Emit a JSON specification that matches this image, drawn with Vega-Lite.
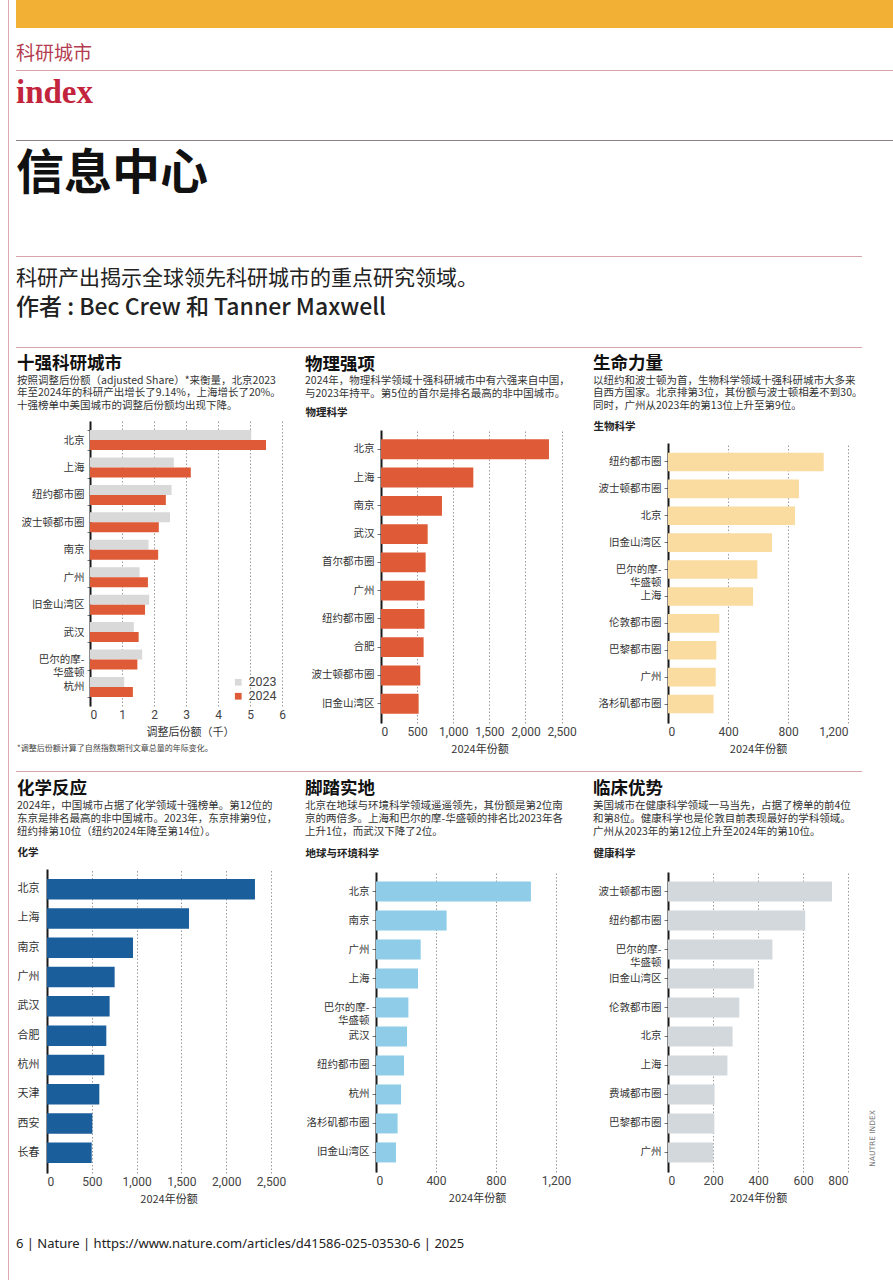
{
  "$schema": "https://vega.github.io/schema/vega-lite/v6.json",
  "padding": {"left": 8, "top": 0, "right": 0, "bottom": 0},
  "background": "#ffffff",
  "datasets": {
    "blank": [{}],
    "top10": [
      {"city": "北京", "year": "2023", "share": 5.04}, {"city": "北京", "year": "2024", "share": 5.50},
      {"city": "上海", "year": "2023", "share": 2.62}, {"city": "上海", "year": "2024", "share": 3.15},
      {"city": "纽约都市圈", "year": "2023", "share": 2.55}, {"city": "纽约都市圈", "year": "2024", "share": 2.37},
      {"city": "波士顿都市圈", "year": "2023", "share": 2.50}, {"city": "波士顿都市圈", "year": "2024", "share": 2.15},
      {"city": "南京", "year": "2023", "share": 1.83}, {"city": "南京", "year": "2024", "share": 2.13},
      {"city": "广州", "year": "2023", "share": 1.55}, {"city": "广州", "year": "2024", "share": 1.81},
      {"city": "旧金山湾区", "year": "2023", "share": 1.85}, {"city": "旧金山湾区", "year": "2024", "share": 1.72},
      {"city": "武汉", "year": "2023", "share": 1.37}, {"city": "武汉", "year": "2024", "share": 1.52},
      {"city": "巴尔的摩-华盛顿", "year": "2023", "share": 1.63}, {"city": "巴尔的摩-华盛顿", "year": "2024", "share": 1.48},
      {"city": "杭州", "year": "2023", "share": 1.07}, {"city": "杭州", "year": "2024", "share": 1.34}
    ],
    "physics": [
      {"city": "北京", "share": 2325}, {"city": "上海", "share": 1278}, {"city": "南京", "share": 844},
      {"city": "武汉", "share": 646}, {"city": "首尔都市圈", "share": 618}, {"city": "广州", "share": 604},
      {"city": "纽约都市圈", "share": 602}, {"city": "合肥", "share": 590}, {"city": "波士顿都市圈", "share": 544},
      {"city": "旧金山湾区", "share": 521}
    ],
    "biology": [
      {"city": "纽约都市圈", "share": 1038}, {"city": "波士顿都市圈", "share": 873}, {"city": "北京", "share": 847},
      {"city": "旧金山湾区", "share": 693}, {"city": "巴尔的摩-华盛顿", "share": 596}, {"city": "上海", "share": 567},
      {"city": "伦敦都市圈", "share": 342}, {"city": "巴黎都市圈", "share": 322}, {"city": "广州", "share": 318},
      {"city": "洛杉矶都市圈", "share": 304}
    ],
    "chemistry": [
      {"city": "北京", "share": 2321}, {"city": "上海", "share": 1585}, {"city": "南京", "share": 960},
      {"city": "广州", "share": 755}, {"city": "武汉", "share": 699}, {"city": "合肥", "share": 662},
      {"city": "杭州", "share": 640}, {"city": "天津", "share": 584}, {"city": "西安", "share": 506},
      {"city": "长春", "share": 499}
    ],
    "earth": [
      {"city": "北京", "share": 1033}, {"city": "南京", "share": 471}, {"city": "广州", "share": 298},
      {"city": "上海", "share": 280}, {"city": "巴尔的摩-华盛顿", "share": 216}, {"city": "武汉", "share": 207},
      {"city": "纽约都市圈", "share": 187}, {"city": "杭州", "share": 167}, {"city": "洛杉矶都市圈", "share": 144},
      {"city": "旧金山湾区", "share": 133}
    ],
    "health": [
      {"city": "波士顿都市圈", "share": 729}, {"city": "纽约都市圈", "share": 610}, {"city": "巴尔的摩-华盛顿", "share": 464},
      {"city": "旧金山湾区", "share": 382}, {"city": "伦敦都市圈", "share": 317}, {"city": "北京", "share": 287},
      {"city": "上海", "share": 264}, {"city": "费城都市圈", "share": 207}, {"city": "巴黎都市圈", "share": 206},
      {"city": "广州", "share": 201}
    ]
  },
  "spacing": 7,
  "align": "none",
  "resolve": {"scale": {"color": "independent"}, "legend": {"color": "independent"}},
  "hconcat": [
    {"width": 1, "height": 1280, "data": {"name": "blank"}, "view": {"fill": "#DDA9B3"},
     "mark": {"type": "point", "size": 0, "opacity": 0, "filled": true, "strokeWidth": 0}, "encoding": {}},
    {
      "spacing": 0,
      "align": "none",
      "resolve": {"scale": {"color": "independent"}, "legend": {"color": "independent"}},
      "vconcat": [
        {"width": 877, "height": 28, "data": {"name": "blank"}, "view": {"fill": "#F2B134"},
         "mark": {"type": "point", "size": 0, "opacity": 0, "filled": true, "strokeWidth": 0}, "encoding": {}},
        {"width": 877, "height": 17, "data": {"name": "blank"},
         "mark": {"type": "point", "size": 0, "opacity": 0, "filled": true, "strokeWidth": 0}, "encoding": {}},
        {"width": 877, "height": 1, "data": {"name": "blank"}, "view": {"fill": "#D5A3AC"},
         "mark": {"type": "point", "size": 0, "opacity": 0, "filled": true, "strokeWidth": 0}, "encoding": {},
         "title": {"text": "科研城市", "fontSize": 19, "fontWeight": "normal", "color": "#B43C50", "offset": 6}},
        {"width": 877, "height": 6, "data": {"name": "blank"},
         "mark": {"type": "point", "size": 0, "opacity": 0, "filled": true, "strokeWidth": 0}, "encoding": {}},
        {"width": 877, "height": 1, "data": {"name": "blank"}, "view": {"fill": "#8E7F83"},
         "mark": {"type": "point", "size": 0, "opacity": 0, "filled": true, "strokeWidth": 0}, "encoding": {},
         "title": {"text": "index", "font": "Liberation Serif", "fontSize": 33, "fontWeight": "bold", "color": "#C3243D", "offset": 30}},
        {"width": 877, "height": 10, "data": {"name": "blank"},
         "mark": {"type": "point", "size": 0, "opacity": 0, "filled": true, "strokeWidth": 0}, "encoding": {}},
        {"width": 846, "height": 1, "data": {"name": "blank"}, "view": {"fill": "#D5A3AC"},
         "mark": {"type": "point", "size": 0, "opacity": 0, "filled": true, "strokeWidth": 0}, "encoding": {},
         "title": {"text": "信息中心", "fontSize": 48, "fontWeight": "bold", "color": "#111111", "offset": 57}},
        {"width": 877, "height": 11, "data": {"name": "blank"},
         "mark": {"type": "point", "size": 0, "opacity": 0, "filled": true, "strokeWidth": 0}, "encoding": {}},
        {"width": 846, "height": 1, "data": {"name": "blank"}, "view": {"fill": "#D5A3AC"},
         "mark": {"type": "point", "size": 0, "opacity": 0, "filled": true, "strokeWidth": 0}, "encoding": {},
         "title": {"text": "科研产出揭示全球领先科研城市的重点研究领域。", "fontSize": 21, "fontWeight": "normal", "color": "#222222",
                   "subtitle": "作者 : Bec Crew 和 Tanner Maxwell", "subtitleFont": "Noto Sans CJK SC", "subtitleFontSize": 23,
                   "subtitleFontWeight": 500, "subtitleColor": "#222222", "subtitlePadding": 8, "subtitleLineHeight": 24, "offset": 27}},
        {"width": 877, "height": 6, "data": {"name": "blank"},
         "mark": {"type": "point", "size": 0, "opacity": 0, "filled": true, "strokeWidth": 0}, "encoding": {}},
        {
          "spacing": 0,
          "align": "none",
          "resolve": {"scale": {"color": "independent"}, "legend": {"color": "independent"}},
          "hconcat": [
            {"width": 1, "height": 1, "data": {"name": "blank"},
             "mark": {"type": "point", "size": 0, "opacity": 0, "filled": true, "strokeWidth": 0}, "encoding": {}},
            {
              "spacing": 15,
              "align": "none",
              "resolve": {"scale": {"color": "independent"}, "legend": {"color": "independent"}},
              "hconcat": [
                {
                  "spacing": 0,
                  "align": "none",
                  "resolve": {"scale": {"color": "independent"}, "legend": {"color": "independent"}},
                  "title": {"text": "*调整后份额计算了自然指数期刊文章总量的年际变化。", "orient": "bottom", "dx": -73, "fontSize": 8, "fontWeight": "normal", "color": "#444444", "offset": 8},
                  "vconcat": [
                    {"width": 1, "height": 1, "data": {"name": "blank"},
                     "mark": {"type": "point", "size": 0, "opacity": 0, "filled": true, "strokeWidth": 0}, "encoding": {}},
                    {
                      "width": 200, "height": 285,
                      "title": {"text": "十强科研城市", "subtitle": ["按照调整后份额（adjusted Share）*来衡量，北京2023", "年至2024年的科研产出增长了9.14%，上海增长了20%。", "十强榜单中美国城市的调整后份额均出现下降。"], "dx": -73, "offset": 5, "subtitleLineHeight": 12.5},
                      "data": {"name": "top10"},
                      "mark": {"type": "bar"},
                      "encoding": {
                        "y": {"field": "city", "type": "nominal", "sort": null,
                              "scale": {"paddingInner": 0.27, "paddingOuter": 0.33},
                              "axis": {"title": null, "tickBand": "extent", "tickSize": 3, "labelPadding": 3,
                                       "labelExpr": "datum.value == '巴尔的摩-华盛顿' ? ['巴尔的摩-', '华盛顿'] : datum.value"}},
                        "yOffset": {"field": "year", "type": "nominal", "sort": null},
                        "x": {"field": "share", "type": "quantitative", "scale": {"domain": [0, 6.25], "nice": false},
                              "axis": {"values": [0, 1, 2, 3, 4, 5, 6], "title": "调整后份额（千）"}},
                        "color": {"field": "year", "type": "nominal",
                                  "scale": {"domain": ["2023", "2024"], "range": ["#D9D9D9", "#DF5A36"]},
                                  "legend": {"orient": "none", "legendX": 142, "legendY": 255, "title": null, "padding": 0,
                                             "symbolType": "square", "symbolSize": 45, "symbolStrokeWidth": 0,
                                             "labelFont": "Roboto", "labelFontSize": 12.5, "labelColor": "#444444", "labelOffset": 4, "rowPadding": 1}}
                      }
                    }
                  ]
                },
                {
                  "spacing": 0,
                  "align": "none",
                  "vconcat": [
                    {"width": 1, "height": 1, "data": {"name": "blank"},
                     "mark": {"type": "point", "size": 0, "opacity": 0, "filled": true, "strokeWidth": 0}, "encoding": {}},
                    {
                      "width": 197, "height": 293,
                      "title": {"text": "物理强项", "subtitle": ["2024年，物理科学领域十强科研城市中有六强来自中国，", "与2023年持平。第5位的首尔是排名最高的非中国城市。"], "dx": -76, "offset": 8, "subtitleLineHeight": 12.5},
                      "data": {"name": "physics"},
                      "mark": {"type": "bar", "color": "#DF5A36"},
                      "encoding": {
                        "y": {"field": "city", "type": "nominal", "sort": null,
                              "scale": {"paddingInner": 0.3, "paddingOuter": 0.33},
                              "axis": {"title": "物理科学", "titleX": -76, "titleY": -18}},
                        "x": {"field": "share", "type": "quantitative", "scale": {"domain": [0, 2727], "nice": false},
                              "axis": {"values": [0, 500, 1000, 1500, 2000, 2500], "format": ",d", "title": "2024年份额"}}
                      }
                    }
                  ]
                },
                {
                  "spacing": 0,
                  "align": "none",
                  "vconcat": [
                    {"width": 1, "height": 1, "data": {"name": "blank"},
                     "mark": {"type": "point", "size": 0, "opacity": 0, "filled": true, "strokeWidth": 0}, "encoding": {}},
                    {
                      "width": 180, "height": 280,
                      "title": {"text": "生命力量", "subtitle": ["以纽约和波士顿为首，生物科学领域十强科研城市大多来", "自西方国家。北京排第3位，其份额与波士顿相差不到30。", "同时，广州从2023年的第13位上升至第9位。"], "dx": -75, "offset": 10, "subtitleLineHeight": 12.5},
                      "data": {"name": "biology"},
                      "mark": {"type": "bar", "color": "#FADCA0"},
                      "encoding": {
                        "y": {"field": "city", "type": "nominal", "sort": null,
                              "scale": {"paddingInner": 0.31, "paddingOuter": 0.36},
                              "axis": {"title": "生物科学", "titleX": -75, "titleY": -17,
                                       "labelExpr": "datum.value == '巴尔的摩-华盛顿' ? ['巴尔的摩-', '华盛顿'] : datum.value"}},
                        "x": {"field": "share", "type": "quantitative", "scale": {"domain": [0, 1200], "nice": false},
                              "axis": {"values": [0, 400, 800, 1200], "format": ",d", "title": "2024年份额"}}
                      }
                    }
                  ]
                }
              ]
            }
          ]
        },
        {"width": 877, "height": 17, "data": {"name": "blank"},
         "mark": {"type": "point", "size": 0, "opacity": 0, "filled": true, "strokeWidth": 0}, "encoding": {}},
        {"width": 846, "height": 1, "data": {"name": "blank"}, "view": {"fill": "#D5A3AC"},
         "mark": {"type": "point", "size": 0, "opacity": 0, "filled": true, "strokeWidth": 0}, "encoding": {}},
        {"width": 877, "height": 7, "data": {"name": "blank"},
         "mark": {"type": "point", "size": 0, "opacity": 0, "filled": true, "strokeWidth": 0}, "encoding": {}},
        {
          "spacing": 0,
          "align": "none",
          "hconcat": [
            {"width": 1, "height": 1, "data": {"name": "blank"},
             "mark": {"type": "point", "size": 0, "opacity": 0, "filled": true, "strokeWidth": 0}, "encoding": {}},
            {
              "spacing": 15,
              "align": "none",
              "hconcat": [
                {
                  "spacing": 0,
                  "align": "none",
                  "vconcat": [
                    {"width": 1, "height": 1, "data": {"name": "blank"},
                     "mark": {"type": "point", "size": 0, "opacity": 0, "filled": true, "strokeWidth": 0}, "encoding": {}},
                    {
                      "width": 243, "height": 304,
                      "title": {"text": "化学反应", "subtitle": ["2024年，中国城市占据了化学领域十强榜单。第12位的", "东京是排名最高的非中国城市。2023年，东京排第9位，", "纽约排第10位（纽约2024年降至第14位）。"], "dx": -30, "offset": 10, "subtitleLineHeight": 13},
                      "data": {"name": "chemistry"},
                      "mark": {"type": "bar", "color": "#1B5E9C"},
                      "encoding": {
                        "y": {"field": "city", "type": "nominal", "sort": null,
                              "scale": {"paddingInner": 0.3, "paddingOuter": 0.34},
                              "axis": {"title": "化学", "titleX": -30, "titleY": -17, "ticks": false, "tickSize": 0,
                                       "labelAlign": "left", "labelPadding": 30, "labelFontSize": 11}},
                        "x": {"field": "share", "type": "quantitative", "scale": {"domain": [0, 2712], "nice": false},
                              "axis": {"values": [0, 500, 1000, 1500, 2000, 2500], "format": ",d", "title": "2024年份额"}}
                      }
                    }
                  ]
                },
                {
                  "spacing": 0,
                  "align": "none",
                  "vconcat": [
                    {"width": 1, "height": 1, "data": {"name": "blank"},
                     "mark": {"type": "point", "size": 0, "opacity": 0, "filled": true, "strokeWidth": 0}, "encoding": {}},
                    {
                      "width": 202, "height": 300,
                      "title": {"text": "脚踏实地", "subtitle": ["北京在地球与环境科学领域遥遥领先，其份额是第2位南", "京的两倍多。上海和巴尔的摩-华盛顿的排名比2023年各", "上升1位，而武汉下降了2位。"], "dx": -71, "offset": 11, "subtitleLineHeight": 13},
                      "data": {"name": "earth"},
                      "mark": {"type": "bar", "color": "#8ECCE8"},
                      "encoding": {
                        "y": {"field": "city", "type": "nominal", "sort": null,
                              "scale": {"paddingInner": 0.31, "paddingOuter": 0.33},
                              "axis": {"title": "地球与环境科学", "titleX": -71, "titleY": -19,
                                       "labelExpr": "datum.value == '巴尔的摩-华盛顿' ? ['巴尔的摩-', '华盛顿'] : datum.value"}},
                        "x": {"field": "share", "type": "quantitative", "scale": {"domain": [0, 1347], "nice": false},
                              "axis": {"values": [0, 400, 800, 1200], "format": ",d", "title": "2024年份额"}}
                      }
                    }
                  ]
                },
                {
                  "spacing": 0,
                  "align": "none",
                  "vconcat": [
                    {"width": 1, "height": 1, "data": {"name": "blank"},
                     "mark": {"type": "point", "size": 0, "opacity": 0, "filled": true, "strokeWidth": 0}, "encoding": {}},
                    {
                      "width": 180, "height": 300,
                      "title": {"text": "临床优势", "subtitle": ["美国城市在健康科学领域一马当先，占据了榜单的前4位", "和第8位。健康科学也是伦敦目前表现最好的学科领域。", "广州从2023年的第12位上升至2024年的第10位。"], "dx": -75, "offset": 11, "subtitleLineHeight": 13},
                      "data": {"name": "health"},
                      "layer": [
                        {
                          "mark": {"type": "bar", "color": "#D3D8DC"},
                          "encoding": {
                            "y": {"field": "city", "type": "nominal", "sort": null,
                                  "scale": {"paddingInner": 0.31, "paddingOuter": 0.33},
                                  "axis": {"title": "健康科学", "titleX": -75, "titleY": -19,
                                           "labelExpr": "datum.value == '巴尔的摩-华盛顿' ? ['巴尔的摩-', '华盛顿'] : datum.value"}},
                            "x": {"field": "share", "type": "quantitative", "scale": {"domain": [0, 800], "nice": false},
                                  "axis": {"values": [0, 200, 400, 600, 800], "format": ",d", "title": "2024年份额"}}
                          }
                        },
                        {
                          "mark": {"type": "bar", "opacity": 0},
                          "encoding": {
                            "y": {"field": "city", "type": "nominal", "sort": null,
                                  "axis": {"orient": "right", "labels": false, "ticks": false, "domain": false,
                                           "title": "NAUTRE INDEX", "titleAngle": -90, "titleX": 24, "titleY": 266,
                                           "titleAlign": "center", "titleBaseline": "middle", "titleFont": "DejaVu Sans",
                                           "titleFontSize": 7.5, "titleFontWeight": "normal", "titleColor": "#777777"}},
                            "x": {"field": "share", "type": "quantitative"}
                          }
                        }
                      ],
                      "resolve": {"axis": {"y": "independent"}}
                    }
                  ]
                }
              ]
            }
          ]
        },
        {"width": 877, "height": 34, "data": {"name": "blank"},
         "mark": {"type": "point", "size": 0, "opacity": 0, "filled": true, "strokeWidth": 0}, "encoding": {}},
        {"width": 877, "height": 1, "data": {"name": "blank"},
         "mark": {"type": "point", "size": 0, "opacity": 0, "filled": true, "strokeWidth": 0}, "encoding": {},
         "title": {"text": "6 | Nature | https://www.nature.com/articles/d41586-025-03530-6 | 2025", "font": "Noto Sans",
                   "fontSize": 13, "fontWeight": "normal", "color": "#222222", "offset": 0}}
      ]
    }
  ],
  "config": {
    "view": {"stroke": null},
    "font": "Noto Sans CJK SC",
    "title": {
      "anchor": "start", "frame": "group", "font": "Noto Sans CJK SC", "fontSize": 17.5, "fontWeight": "bold", "color": "#111111",
      "subtitleFont": "Noto Sans CJK SC", "subtitleFontSize": 10.5, "subtitleColor": "#333333", "subtitlePadding": 3, "subtitleLineHeight": 11.5
    },
    "axisX": {
      "domain": false, "ticks": false, "grid": true, "gridColor": "#9a9a9a", "gridDash": [1.5, 2], "gridWidth": 1,
      "labelFont": "Roboto", "labelFontSize": 12, "labelColor": "#444444", "labelPadding": 3,
      "titleFont": "Noto Sans CJK SC", "titleFontSize": 11, "titleFontWeight": "normal", "titleColor": "#333333", "titlePadding": 6
    },
    "axisY": {
      "domainColor": "#1a1a1a", "domainWidth": 2, "ticks": true, "tickSize": 4, "tickColor": "#777777", "grid": false,
      "labelFont": "Noto Sans CJK SC", "labelFontSize": 10.5, "labelColor": "#333333", "labelPadding": 3, "labelLineHeight": 13,
      "titleAlign": "left", "titleBaseline": "middle", "titleFontWeight": "bold", "titleFontSize": 10.5,
      "titleColor": "#222222", "titleFont": "Noto Sans CJK SC"
    },
    "axisLeft": {"titleAngle": 0},
    "axisRight": {"titleAngle": -90, "titleAlign": "center"}
  }
}
